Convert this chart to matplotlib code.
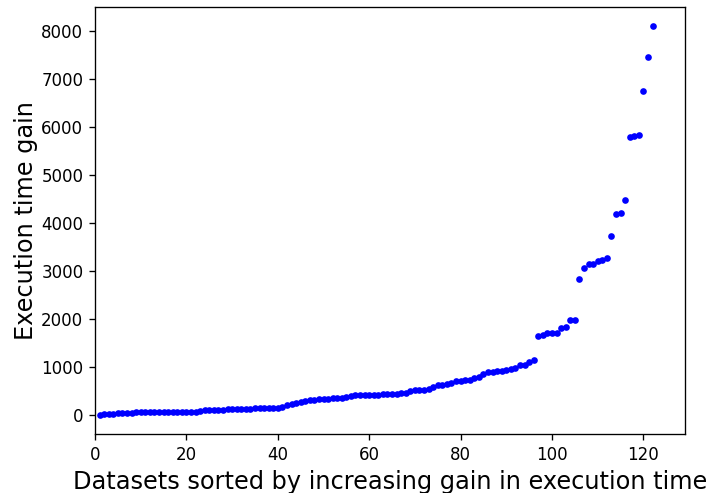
import matplotlib
matplotlib.use("Agg")
import matplotlib.pyplot as plt

# Execution-time gain per dataset, sorted in increasing order
gain = [
    5, 8, 12, 20, 28, 35, 42, 48, 52, 55,
    57, 58, 59, 60, 60, 61, 62, 62, 63, 64,
    65, 66, 70, 95, 102, 105, 108, 110, 113, 116,
    120, 123, 126, 130, 133, 137, 140, 143, 146, 152,
    170, 200, 225, 250, 275, 295, 310, 318, 322, 328,
    335, 342, 350, 358, 368, 400, 405, 410, 412, 415,
    418, 422, 432, 438, 440, 443, 452, 465, 495, 518,
    520, 522, 545, 590, 612, 620, 640, 665, 695, 710,
    718, 730, 757, 785, 860, 889, 897, 903, 910, 930,
    945, 966, 1035, 1040, 1091, 1132, 1633, 1668, 1695, 1702,
    1710, 1814, 1835, 1973, 1975, 2822, 3065, 3135, 3141, 3211,
    3232, 3266, 3733, 4183, 4204, 4469, 5790, 5805, 5820, 6742,
    7445, 8092,
]
dataset_rank = list(range(1, len(gain) + 1))

x_ticks = [0, 20, 40, 60, 80, 100, 120]
y_ticks = [0, 1000, 2000, 3000, 4000, 5000, 6000, 7000, 8000]

dpi = 120
fig = plt.figure(figsize=(710 / dpi, 493 / dpi), dpi=dpi)
ax = fig.add_axes([95 / 710, (493 - 434) / 493, 590 / 710, 427 / 493])

ax.plot(dataset_rank, gain, "b.", markersize=6)

ax.set_xlim(0, 129.1)
ax.set_xticks(x_ticks)
ax.set_yticks(y_ticks)
ax.set_xlabel("Datasets sorted by increasing gain in execution time", fontsize=14.4)
ax.set_ylabel("Execution time gain", fontsize=14.4, labelpad=2)

fig.savefig("out.png", dpi=dpi)
